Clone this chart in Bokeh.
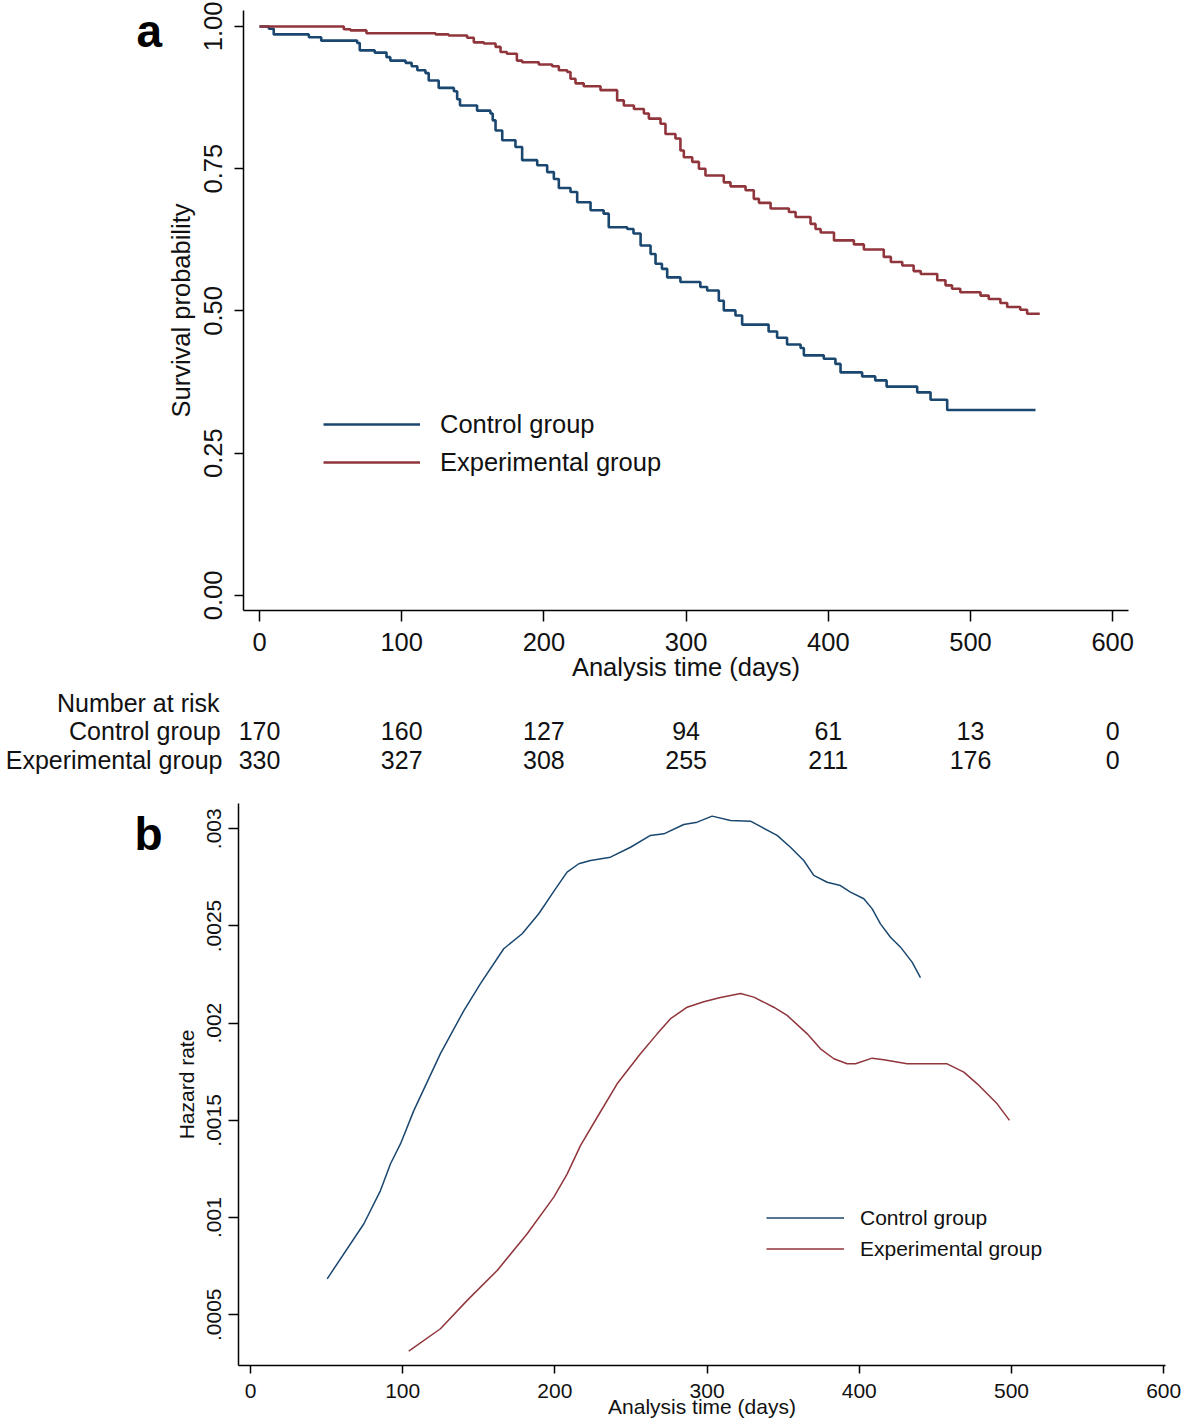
from bokeh.plotting import figure
from bokeh.models import Range1d, FixedTicker, Legend, LegendItem
from bokeh.layouts import column, row
from bokeh.core.properties import value
from bokeh.embed import file_html
from bokeh.resources import INLINE

FONT = "Liberation Sans"
BLUE = "#1a476f"
RED = "#90353b"
TXT = "#111111"
FS_A = "25.5px"
FS_R = "25px"
FS_B = "21px"

# ---------------- Panel a: Kaplan-Meier survival estimates ----------------
ctrl_time = [0, 6.6, 10, 34.7, 43.4, 68.7, 70.5, 81, 89.3, 92, 102.7, 107, 111, 116.7, 119,
             126, 136.7, 139, 141, 153, 162.4, 164, 166, 170.7, 180, 184.7, 195.3, 202.3, 207,
             210.5, 218.7, 223.4, 232.8, 242, 245.6, 258.6, 263, 268, 275, 278.5, 283, 286.7,
             296, 310, 314.8, 323, 326.5, 334.7, 339.4, 358, 364, 371, 380.5, 382.8, 396.8,
             405, 408.6, 423.8, 433, 441, 462.5, 471.9, 483.6, 545.7]
ctrl_surv = [1.0, 0.996, 0.986, 0.981, 0.975, 0.971, 0.958, 0.954, 0.946, 0.940, 0.936, 0.930,
             0.923, 0.918, 0.905, 0.892, 0.886, 0.872, 0.861, 0.852, 0.847, 0.835, 0.817, 0.800,
             0.788, 0.765, 0.756, 0.744, 0.732, 0.716, 0.709, 0.691, 0.677, 0.671, 0.647, 0.644,
             0.636, 0.615, 0.600, 0.583, 0.574, 0.559, 0.551, 0.542, 0.536, 0.518, 0.501, 0.492,
             0.476, 0.464, 0.453, 0.441, 0.435, 0.422, 0.416, 0.407, 0.392, 0.385, 0.378, 0.367,
             0.357, 0.344, 0.326, 0.326]

exp_time = [0, 59.3, 64, 75.2, 123.8, 133, 146, 150.7, 157.7, 166, 169.5, 174, 181, 184.7,
            196.4, 205.8, 210.5, 216.4, 218.7, 222.2, 228, 239.8, 251.5, 256.2, 263.3, 270.3,
            273.8, 282, 285.5, 292.5, 296, 298.4, 304.3, 309, 313.6, 326.5, 331.2, 341.8, 347.6,
            351.2, 359.4, 372.3, 377, 387.5, 391, 394.6, 404, 418, 425, 439, 444, 452, 460, 465,
            476.6, 482.4, 487, 492.8, 507, 512.8, 521, 525.8, 535, 539.8, 548.7]
exp_surv = [1.0, 0.995, 0.993, 0.988, 0.986, 0.984, 0.980, 0.972, 0.970, 0.964, 0.955, 0.952,
            0.940, 0.937, 0.933, 0.930, 0.923, 0.920, 0.908, 0.900, 0.895, 0.888, 0.870, 0.861,
            0.855, 0.847, 0.838, 0.829, 0.811, 0.803, 0.782, 0.770, 0.762, 0.750, 0.738, 0.726,
            0.719, 0.712, 0.697, 0.690, 0.680, 0.674, 0.665, 0.653, 0.644, 0.638, 0.624, 0.617,
            0.608, 0.595, 0.586, 0.580, 0.570, 0.565, 0.554, 0.545, 0.539, 0.533, 0.527, 0.521,
            0.514, 0.507, 0.502, 0.495, 0.495]

km_xticks = [0, 100, 200, 300, 400, 500, 600]
km_yticks = [0.0, 0.25, 0.5, 0.75, 1.0]
km_ylabels = ["0.00", "0.25", "0.50", "0.75", "1.00"]

risk_times = [0, 100, 200, 300, 400, 500, 600]
risk_ctrl = [170, 160, 127, 94, 61, 13, 0]
risk_exp = [330, 327, 308, 255, 211, 176, 0]
risk_title = "Number at risk"

# ---------------- Panel b: smoothed hazard estimates ----------------
haz_ctrl_time = [50.4, 74.5, 85.4, 92, 98.6, 107.3, 124.8, 140.2, 151.1, 166.4, 178.5, 189.4,
                 200.4, 208, 215.7, 223.4, 236.5, 249.7, 262.8, 271.6, 284.7, 293.5, 303.3,
                 315.4, 328.5, 335, 346, 354.8, 363.5, 370.1, 378.9, 387.6, 394.2, 403, 408.5,
                 413.9, 420.5, 427.1, 434.7, 440.2]
haz_ctrl_rate = [0.000685, 0.000968, 0.001139, 0.001277, 0.00138, 0.00155, 0.001843, 0.002065,
                 0.002203, 0.002383, 0.00246, 0.002563, 0.002691, 0.002777, 0.00282, 0.002837,
                 0.002854, 0.002905, 0.002966, 0.002974, 0.003022, 0.003034, 0.003065, 0.003043,
                 0.003039, 0.003012, 0.002966, 0.002905, 0.002837, 0.00276, 0.002725, 0.002708,
                 0.002674, 0.00264, 0.002588, 0.002511, 0.002442, 0.002391, 0.002314, 0.002234]

haz_exp_time = [104, 124.8, 142.4, 162.1, 181.8, 199.3, 208.1, 216.8, 227.8, 240.9, 256.2, 267.2,
                276, 286.9, 297.8, 308.8, 322, 330.7, 343.8, 352.6, 365.8, 374.5, 383.3, 392,
                397.5, 408.5, 416.1, 431.5, 457.7, 468.7, 477.5, 490.6, 498.7]
haz_exp_rate = [0.000313, 0.000428, 0.000574, 0.000728, 0.000917, 0.001105, 0.001225, 0.00137,
                0.001516, 0.001688, 0.001843, 0.001945, 0.002023, 0.002082, 0.00211, 0.002132,
                0.002153, 0.002134, 0.002082, 0.00204, 0.001945, 0.001868, 0.001817, 0.001791,
                0.001791, 0.00182, 0.001812, 0.001791, 0.001791, 0.001748, 0.001688, 0.001585,
                0.0015]

hz_xticks = [0, 100, 200, 300, 400, 500, 600]
hz_yticks = [0.0005, 0.001, 0.0015, 0.002, 0.0025, 0.003]
hz_ylabels = [".0005", ".001", ".0015", ".002", ".0025", ".003"]

group_names = ["Control group", "Experimental group"]
panel_letters = ["a", "b"]


def blank_fig(w, h, xr=None, yr=None):
    xr = xr if xr is not None else (0, w)
    yr = yr if yr is not None else (0, h)
    f = figure(width=w, height=h, output_backend="svg", toolbar_location=None,
               x_axis_location=None, y_axis_location=None, min_border=0,
               x_range=Range1d(*xr), y_range=Range1d(*yr))
    f.grid.visible = False
    f.outline_line_color = None
    return f


def put_text(f, xs, ys, texts, size, align, bold=False, color=TXT):
    f.text(x=xs, y=ys, text=texts, text_align=align, text_baseline="middle",
           text_font=value(FONT), text_font_size=value(size),
           text_font_style="bold" if bold else "normal", text_color=color)


def style_axes(p, fs, x_out, y_out, x_std, y_std, xt_std, yt_std):
    for ax in (p.xaxis[0], p.yaxis[0]):
        ax.axis_line_color = "black"
        ax.axis_line_width = 1.5
        ax.major_tick_line_color = "black"
        ax.major_tick_line_width = 1.5
        ax.minor_tick_line_color = None
        ax.major_tick_in = 0
        ax.major_label_text_font = FONT
        ax.major_label_text_font_size = fs
        ax.major_label_text_color = TXT
        ax.axis_label_text_font = FONT
        ax.axis_label_text_font_size = fs
        ax.axis_label_text_font_style = "normal"
        ax.axis_label_text_color = TXT
    p.xaxis[0].major_tick_out = x_out
    p.yaxis[0].major_tick_out = y_out
    p.xaxis[0].major_label_standoff = x_std
    p.yaxis[0].major_label_standoff = y_std
    p.xaxis[0].axis_label_standoff = xt_std
    p.yaxis[0].axis_label_standoff = yt_std
    p.yaxis[0].major_label_orientation = "vertical"
    p.grid.visible = False
    p.outline_line_color = None


# ---------------- panel letter "a" (pixel-unit canvas, y up) ----------------
fa = blank_fig(163, 688)
put_text(fa, [136], [688 - 23], [panel_letters[0]], "46px", "left", bold=True, color="black")

# ---------------- figure a ----------------
pa = figure(width=1018, height=688, output_backend="svg", toolbar_location=None,
            x_range=Range1d(-11.25, 611.1), y_range=Range1d(-0.0264, 1.028),
            min_border_left=80, min_border_right=53, min_border_top=10, min_border_bottom=78,
            x_axis_label="Analysis time (days)", y_axis_label="Survival probability")
pa.xaxis[0].ticker = FixedTicker(ticks=km_xticks)
pa.yaxis[0].ticker = FixedTicker(ticks=km_yticks)
pa.yaxis[0].major_label_overrides = {v: s for v, s in zip(km_yticks, km_ylabels)}
style_axes(pa, FS_A, 11, 9, 11, 12, -1, 7)

r_c = pa.step(ctrl_time, ctrl_surv, mode="after", line_color=BLUE, line_width=2.6)
r_e = pa.step(exp_time, exp_surv, mode="after", line_color=RED, line_width=2.6)

leg_a = Legend(items=[LegendItem(label=group_names[0], renderers=[r_c]),
                      LegendItem(label=group_names[1], renderers=[r_e])],
               location=(80, 133), orientation="vertical",
               glyph_width=97, glyph_height=30, label_height=30, label_standoff=20,
               spacing=8, padding=0, margin=0,
               border_line_color=None, background_fill_alpha=0,
               label_text_font=FONT, label_text_font_size=FS_A, label_text_color=TXT)
pa.add_layout(leg_a)

# ---------------- number-at-risk table (shares panel a's x scale) ----------------
RK_H = 90
rk = blank_fig(1181, RK_H, xr=(-259 / 1.422, (1181 - 259) / 1.422), yr=(0, RK_H))
row_y = [RK_H - 14.5, RK_H - 42.3, RK_H - 71.7]   # title row, control row, experimental row
put_text(rk, risk_times, [row_y[1]] * len(risk_times), [str(v) for v in risk_ctrl], FS_R, "center")
put_text(rk, risk_times, [row_y[2]] * len(risk_times), [str(v) for v in risk_exp], FS_R, "center")
# row headings: right-aligned just left of the first column (x in days, panel a's scale)
put_text(rk, [-28.1], [row_y[0]], [risk_title], FS_R, "right")
put_text(rk, [-27.4], [row_y[1]], [group_names[0]], FS_R, "right")
put_text(rk, [-26.0], [row_y[2]], [group_names[1]], FS_R, "right")

# ---------------- panel letter "b" ----------------
fb = blank_fig(163, 646)
put_text(fb, [134], [646 - 35], [panel_letters[1]], "46px", "left", bold=True, color="black")

# ---------------- figure b ----------------
pb = figure(width=1018, height=646, output_backend="svg", toolbar_location=None,
            x_range=Range1d(-7.88, 601.2), y_range=Range1d(0.000239, 0.00313),
            min_border_left=75, min_border_right=16, min_border_top=25, min_border_bottom=59,
            x_axis_label="Analysis time (days)", y_axis_label="Hazard rate")
pb.xaxis[0].ticker = FixedTicker(ticks=hz_xticks)
pb.yaxis[0].ticker = FixedTicker(ticks=hz_yticks)
pb.yaxis[0].major_label_overrides = {v: s for v, s in zip(hz_yticks, hz_ylabels)}
style_axes(pb, FS_B, 8, 10, 10, 7, -6, 7)

h_c = pb.line(haz_ctrl_time, haz_ctrl_rate, line_color=BLUE, line_width=1.5)
h_e = pb.line(haz_exp_time, haz_exp_rate, line_color=RED, line_width=1.5)

leg_b = Legend(items=[LegendItem(label=group_names[0], renderers=[h_c]),
                      LegendItem(label=group_names[1], renderers=[h_e])],
               location=(528, 104), orientation="vertical",
               glyph_width=78, glyph_height=25, label_height=25, label_standoff=16,
               spacing=6, padding=0, margin=0,
               border_line_color=None, background_fill_alpha=0,
               label_text_font=FONT, label_text_font_size=FS_B, label_text_color=TXT)
pb.add_layout(leg_b)

layout = column(row(fa, pa, spacing=0), rk, row(fb, pb, spacing=0), spacing=0)
open("out.html", "w").write(file_html(layout, INLINE))
